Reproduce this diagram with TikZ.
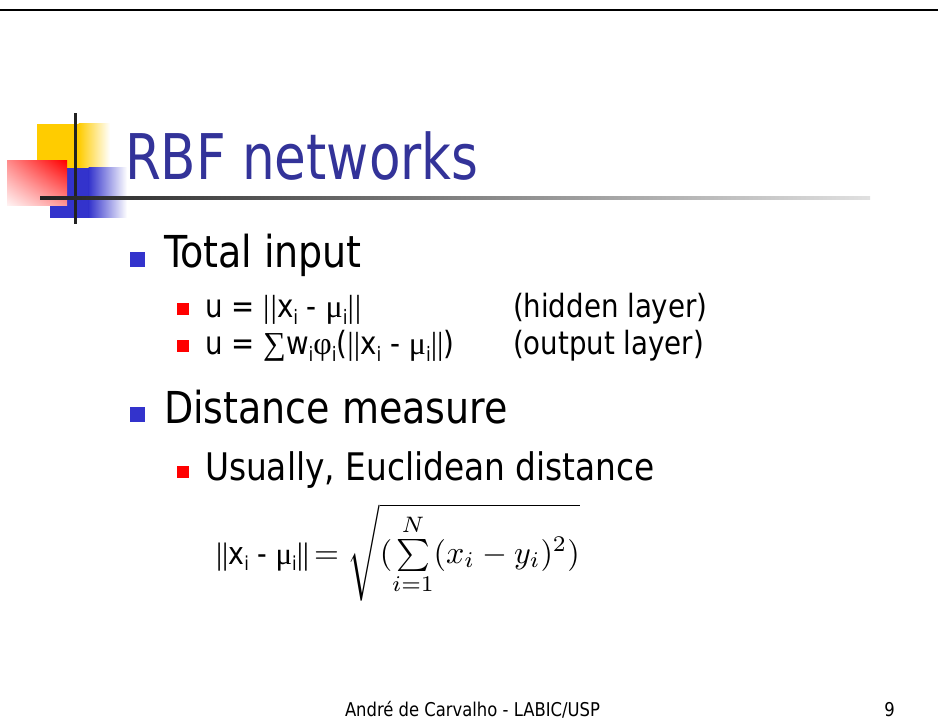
\documentclass[tikz,border=0pt]{standalone}
\usepackage[no-math]{fontspec}
\usepackage{graphicx}
\usetikzlibrary{shadings}
\setmainfont[FakeStretch=0.96]{DejaVu Sans Condensed}
\newfontfamily\ttlfont[FakeStretch=0.91]{DejaVu Sans Condensed}
\newfontfamily\symf{Liberation Serif}
\newcommand\sbx[1]{\raisebox{-0.2em}{\scalebox{0.62}{#1}}}
\definecolor{ttl}{HTML}{333399}
\definecolor{bblue}{HTML}{3333CC}
\definecolor{yel}{HTML}{FFCC00}
\definecolor{dk}{HTML}{222222}
\begin{document}
\begin{tikzpicture}[x=1pt,y=-1pt,
  txt/.style={anchor=base west, inner sep=0pt, outer sep=0pt},
  lvlone/.style={txt, font=\fontsize{44}{50}\selectfont},
  lvltwo/.style={txt, font=\fontsize{32}{38}\selectfont},
  bulone/.style={fill=bblue, inner sep=0pt, minimum size=15pt},
  bultwo/.style={fill=red, inner sep=0pt, minimum size=12pt}]
\useasboundingbox (0,0) rectangle (938,722);
\fill[white] (0,0) rectangle (938,722);
% top rule
\fill[black] (0,8.8) rectangle (938,11.4);
% logo
\fill[yel] (37,124) rectangle (79,168);
\shade[left color=yel, right color=white] (78.5,124) rectangle (110,168);
\fill[bblue] (50,168) rectangle (89,218);
\shade[left color=bblue, right color=white] (88.5,168) rectangle (127,218);
\shade[upper right=red, upper left=red!45, lower right=red!40, lower left=red!4] (7,161) rectangle (67,206);
\fill[dk] (73.5,113) rectangle (76.5,224);
\shade[left color=dk, right color=black!12] (40,196.5) rectangle (870,199.5);
% title
\node[txt, font=\ttlfont\fontsize{63}{70}\selectfont, text=ttl] (title) at (125,180) {RBF networks};
% level 1
\node[bulone] (b1) at (137.5,259.5) {};
\node[lvlone] (t1) at (164,268) {Total input};
\node[bultwo] (b2) at (183,309.5) {};
\node[lvltwo] (t2) at (205,318) {u = {\symf|\kern1pt|}x\sbx{i} - {\symf μ}\sbx{i}{\symf|\kern1pt|}};
\node[lvltwo] (t2r) at (513,318) {(hidden layer)};
\node[bultwo] (b3) at (183,346.5) {};
\node[lvltwo] (t3) at (205,355) {u = {\symf ∑}w\sbx{i}{\symf φ}\sbx{i}({\symf||}x\sbx{i} - {\symf μ}\sbx{i}{\symf||})};
\node[lvltwo] (t3r) at (513,355) {(output layer)};
\node[bulone] (b4) at (137.5,414) {};
\node[lvlone] (t4) at (164,423) {Distance measure};
\node[bultwo] (b5) at (183,472) {};
\node[txt, font=\fontsize{38}{44}\selectfont] (t5) at (205,480) {Usually, Euclidean distance};
% formula
\node[txt, font=\fontsize{31}{37}\selectfont] (f1) at (216,564) {{\symf||}x\sbx{i} - {\symf μ}\sbx{i}{\symf||}};
\node[txt] (f2) at (314,563) {\scalebox{3.2}{$=\sqrt{(\textstyle\sum\limits_{i=1}^{N}(x_i-y_i)^2)}$}};
% footer
\node[txt, font=\fontsize{19}{23}\selectfont] (foot) at (345,716) {André de Carvalho - LABIC/USP};
\node[anchor=base east, inner sep=0pt, font=\fontsize{19}{23}\selectfont] (pg) at (895,716) {9};
\end{tikzpicture}
\end{document}
